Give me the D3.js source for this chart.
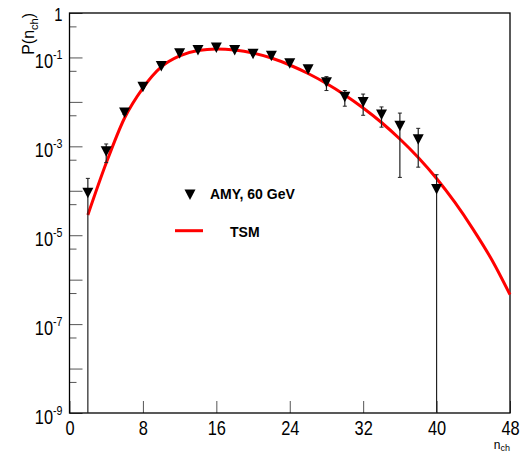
<!DOCTYPE html>
<html>
<head>
<meta charset="utf-8">
<script src="https://cdn.jsdelivr.net/npm/d3@7"></script>
<style>
  body { margin: 0; background: #fff; }
  svg { display: block; }
</style>
</head>
<body>
<script>
// AMY 60 GeV multiplicity distribution vs TSM curve

var nch = [2, 4, 6, 8, 10, 12, 14, 16, 18, 20, 22, 24, 26, 28, 30, 32, 34, 36, 38, 40];
var prob = [9e-5, 7.8e-4, 5.8e-3, 0.022, 0.064, 0.124, 0.147, 0.167, 0.147, 0.121,
            0.109, 0.074, 0.054, 0.0275, 0.013, 0.010, 5.2e-3, 2.9e-3, 1.44e-3, 1.1e-4];
var probErr = [1.0e-4, 3.5e-4, 6e-4, 2e-3, 5e-3, 8e-3, 8e-3, 8e-3, 8e-3, 8e-3,
               8e-3, 6e-3, 5e-3, 9.5e-3, 5e-3, 5e-3, 2.5e-3, 2.7e-3, 1.1e-3, 1.2e-4];

var tsmN = [2, 4, 6, 8, 10, 12, 14, 16, 18, 20, 22, 24, 26, 28, 30, 32, 34, 36, 38, 40, 42, 44, 46, 48];
var tsmP = [2.85e-5, 4.2e-4, 4.34e-3, 0.0205, 0.061, 0.108, 0.143, 0.155, 0.147, 0.126,
            0.0971, 0.0676, 0.0435, 0.0259, 0.0143, 7.29e-3, 3.44e-3, 1.46e-3, 5.6e-4, 1.89e-4,
            5.45e-5, 1.34e-5, 2.84e-6, 4.6e-7];

var xTicks = [0, 8, 16, 24, 32, 40, 48];
var yMajor = [1, 1e-1, 1e-2, 1e-3, 1e-4, 1e-5, 1e-6, 1e-7, 1e-8, 1e-9];
var yMinor = [5e-1, 5e-2, 5e-3, 5e-4, 5e-5, 5e-6, 5e-7, 5e-8, 5e-9];
var yLabelled = [1, 1e-1, 1e-3, 1e-5, 1e-7, 1e-9];

var svgWidth = 527;
var svgHeight = 452;
var plotLeft = 69.5, plotRight = 510, plotTop = 13, plotBottom = 413;

var numFont = "'Liberation Sans', Arial, sans-serif";
var txtFont = "'Liberation Sans', Arial, sans-serif";

var svg = d3.select("body")
  .append("svg")
  .attr("width", svgWidth)
  .attr("height", svgHeight);

var x = d3.scaleLinear().domain([0, 48]).range([plotLeft, plotRight]);
var y = d3.scaleLog().domain([1e-9, 1]).range([plotBottom, plotTop]);

// x axis (ticks point up into the frame)
var xAxis = svg.append("g")
  .attr("transform", `translate(0, ${plotBottom})`)
  .call(d3.axisBottom(x).tickValues(xTicks).tickSizeInner(-12).tickSizeOuter(0).tickPadding(8));
xAxis.select(".domain").remove();
xAxis.selectAll("line").attr("stroke", "#555");
xAxis.selectAll("text")
  .attr("font-family", numFont)
  .attr("font-size", 20)
  .attr("fill", "#000")
  .attr("transform", "scale(0.82, 1)");

// y axis minor ticks
var yMinorAxis = svg.append("g")
  .attr("transform", `translate(${plotLeft}, 0)`)
  .call(d3.axisLeft(y).tickValues(yMinor).tickSizeInner(-7).tickSizeOuter(0).tickFormat(""));
yMinorAxis.select(".domain").remove();
yMinorAxis.selectAll("line").attr("stroke", "#555");

// y axis major ticks
var yAxis = svg.append("g")
  .attr("transform", `translate(${plotLeft}, 0)`)
  .call(d3.axisLeft(y).tickValues(yMajor).tickSizeInner(-13).tickSizeOuter(0).tickPadding(7).tickFormat(""));
yAxis.select(".domain").remove();
yAxis.selectAll("line").attr("stroke", "#555");
yAxis.selectAll("text").each(function(d) {
  var t = d3.select(this)
    .attr("font-family", numFont)
    .attr("fill", "#000")
    .attr("dy", null)
    .attr("transform", "scale(0.82, 1)")
    .attr("x", -7 / 0.82);
  if (yLabelled.indexOf(d) < 0) return;
  var e = Math.round(Math.log10(d));
  if (e === 0) {
    t.attr("font-size", 18).attr("y", 7).text("1");
  } else {
    t.attr("font-size", 20).attr("y", 10);
    t.append("tspan").text("10");
    t.append("tspan").attr("font-size", 13).attr("dy", -8.7).text(String(e));
  }
});

// frame
svg.append("rect")
  .attr("x", plotLeft)
  .attr("y", plotTop)
  .attr("width", plotRight - plotLeft)
  .attr("height", plotBottom - plotTop)
  .attr("fill", "none")
  .attr("stroke", "#000")
  .attr("stroke-width", 1.3);

// axis titles
var yTitle = svg.append("text")
  .attr("transform", `translate(34, ${plotTop}) rotate(-90)`)
  .attr("text-anchor", "end")
  .attr("font-family", txtFont)
  .attr("font-size", 16);
yTitle.append("tspan").text("P(n");
yTitle.append("tspan").attr("font-size", 11).attr("dy", 4).text("ch");
yTitle.append("tspan").attr("dy", -4).text(")");

var xTitle = svg.append("text")
  .attr("x", plotRight)
  .attr("y", 449)
  .attr("text-anchor", "end")
  .attr("font-family", txtFont)
  .attr("font-size", 12);
xTitle.append("tspan").text("n");
xTitle.append("tspan").attr("font-size", 9).attr("dy", 2).text("ch");

// TSM curve
var line = d3.line()
  .x((d, i) => x(tsmN[i]))
  .y(d => y(d))
  .curve(d3.curveMonotoneX);

svg.append("path")
  .datum(tsmP)
  .attr("d", line)
  .attr("fill", "none")
  .attr("stroke", "#ff0000")
  .attr("stroke-width", 3);

// error bars
var errGroup = svg.append("g");
nch.forEach(function(n, i) {
  var hi = prob[i] + probErr[i];
  var lo = prob[i] - probErr[i];
  var yHi = y(hi);
  var yLo = lo > 1e-9 ? y(lo) : plotBottom;
  var cx = x(n);
  errGroup.append("line")
    .attr("x1", cx).attr("x2", cx)
    .attr("y1", yHi).attr("y2", yLo)
    .attr("stroke", "#222")
    .attr("stroke-width", 1.2);
  errGroup.append("line")
    .attr("x1", cx - 2).attr("x2", cx + 2)
    .attr("y1", yHi).attr("y2", yHi)
    .attr("stroke", "#222");
  if (lo > 1e-9) {
    errGroup.append("line")
      .attr("x1", cx - 2).attr("x2", cx + 2)
      .attr("y1", yLo).attr("y2", yLo)
      .attr("stroke", "#222");
  }
});

// data markers (downward triangles)
function triDown(cx, cy) {
  return `M${cx - 5.5},${cy - 5} L${cx + 5.5},${cy - 5} L${cx},${cy + 5.5} Z`;
}

svg.append("g")
  .selectAll("path")
  .data(nch)
  .enter()
  .append("path")
  .attr("d", (d, i) => triDown(x(d), y(prob[i])))
  .attr("fill", "#000");

// legend
svg.append("path")
  .attr("d", triDown(190, 194.5))
  .attr("fill", "#000");
svg.append("text")
  .attr("x", 210)
  .attr("y", 198.5)
  .attr("font-family", txtFont)
  .attr("font-weight", "bold")
  .attr("font-size", 14)
  .text("AMY, 60 GeV");

svg.append("line")
  .attr("x1", 175).attr("x2", 203)
  .attr("y1", 230.7).attr("y2", 230.7)
  .attr("stroke", "#ff0000")
  .attr("stroke-width", 3);
svg.append("text")
  .attr("x", 230)
  .attr("y", 237)
  .attr("font-family", txtFont)
  .attr("font-weight", "bold")
  .attr("font-size", 14)
  .text("TSM");
</script>
</body>
</html>
